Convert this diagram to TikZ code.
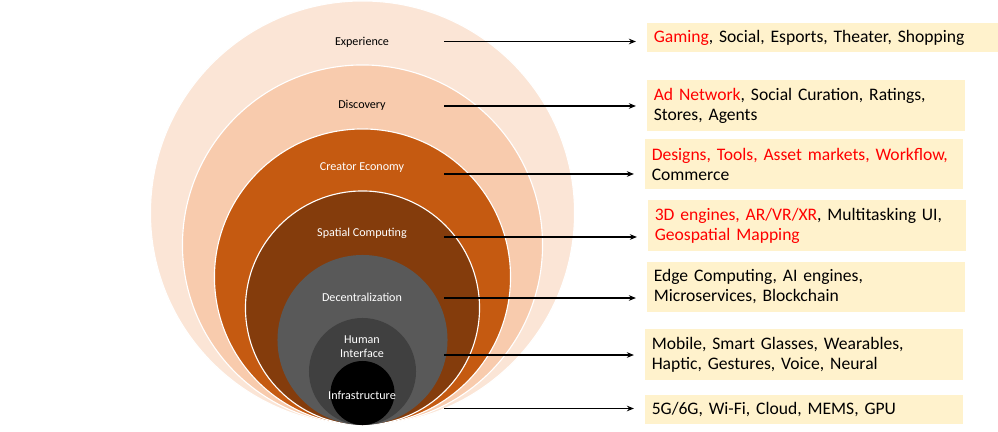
\documentclass[tikz,border=0pt]{standalone}
\usepackage{fontspec}
\setmainfont{Carlito}
\usepackage{xcolor}
\usetikzlibrary{arrows.meta, positioning}
\definecolor{ring1}{HTML}{FBE5D6}
\definecolor{ring2}{HTML}{F8CBAD}
\definecolor{ring3}{HTML}{C55A11}
\definecolor{ring4}{HTML}{843C0C}
\definecolor{ring5}{HTML}{595959}
\definecolor{ring6}{HTML}{404040}
\definecolor{ring7}{HTML}{000000}
\definecolor{boxfill}{HTML}{FFF2CC}
\definecolor{hot}{HTML}{FF0000}

\begin{document}
\begin{tikzpicture}[x=0.025cm, y=-0.025cm,
    ring/.style={circle, draw=white, line width=0.8pt, inner sep=0pt},
    lbl/.style={font=\fontsize{8.6}{10}\selectfont, align=center},
    item/.style={rectangle, fill=boxfill, inner xsep=0.17cm, inner ysep=0pt,
                 align=left, font=\fontsize{12.5}{14.2}\selectfont},
    arr/.style={-{Stealth[length=5pt, width=4pt]}, line width=1.1pt, shorten >=0.27cm}]

    \useasboundingbox (0,0) rectangle (998,432);

    % Circles
    \node[ring, fill=ring1, minimum size=10.6cm]  (c1) at (362.5, 213) {};
    \node[ring, fill=ring2, minimum size=9.0cm]   (c2) at (362.5, 245) {};
    \node[ring, fill=ring3, minimum size=7.4cm]   (c3) at (362.5, 277) {};
    \node[ring, fill=ring4, minimum size=5.85cm]  (c4) at (362.5, 308) {};
    \node[ring, draw=none, fill=ring5, minimum size=4.25cm]  (c5) at (362.5, 340) {};
    \node[ring, draw=none, fill=ring6, minimum size=2.675cm] (c6) at (362.5, 371.5) {};
    \node[ring, draw=none, fill=ring7, minimum size=1.6cm]   (c7) at (362.5, 393) {};

    % Layer names
    \node[lbl] (l1) at (362, 42) {Experience};
    \node[lbl] (l2) at (362, 105) {Discovery};
    \node[lbl, text=white] (l3) at (362, 168) {Creator Economy};
    \node[lbl, text=white] (l4) at (362, 233) {Spatial Computing};
    \node[lbl, text=white] (l5) at (362, 297) {Decentralization};
    \node[lbl, text=white] (l6) at (362, 346.5) {Human\\Interface};
    \node[lbl, text=white] (l7) at (362, 395) {Infrastructure};

    % Boxes
    \node[item, text width=8.435cm, minimum height=0.725cm] (b1) at (822.5, 37.5)
        {\textcolor{hot}{Gaming}, Social, Esports, Theater, Shopping};
    \node[item, text width=7.61cm, minimum height=1.275cm] (b2) at (806, 105.5)
        {\textcolor{hot}{Ad Network}, Social Curation, Ratings,\\Stores, Agents};
    \node[item, text width=7.61cm, minimum height=1.25cm] (b3) at (804, 164)
        {\textcolor{hot}{Designs, Tools, Asset markets, Workflow,}\\Commerce};
    \node[item, text width=7.61cm, minimum height=1.275cm] (b4) at (807, 225.5)
        {\textcolor{hot}{3D engines, AR/VR/XR}, Multitasking UI,\\\textcolor{hot}{Geospatial Mapping}};
    \node[item, text width=7.61cm, minimum height=1.25cm] (b5) at (806, 287)
        {Edge Computing, AI engines,\\Microservices, Blockchain};
    \node[item, text width=7.61cm, minimum height=1.275cm] (b6) at (804, 354.5)
        {Mobile, Smart Glasses, Wearables,\\Haptic, Gestures, Voice, Neural};
    \node[item, text width=7.61cm, minimum height=0.725cm] (b7) at (804, 409.5)
        {5G/6G, Wi-Fi, Cloud, MEMS, GPU};

    % Arrows
    \coordinate (a1) at (444, 41.5);
    \coordinate (a2) at (444, 106);
    \coordinate (a3) at (444, 174);
    \coordinate (a4) at (444, 237);
    \coordinate (a5) at (444, 298);
    \coordinate (a6) at (444, 355);
    \coordinate (a7) at (444, 408.5);
    \foreach \i in {1,...,7}
        \draw[arr] (a\i) -- (a\i -| b\i.west);
\end{tikzpicture}
\end{document}
